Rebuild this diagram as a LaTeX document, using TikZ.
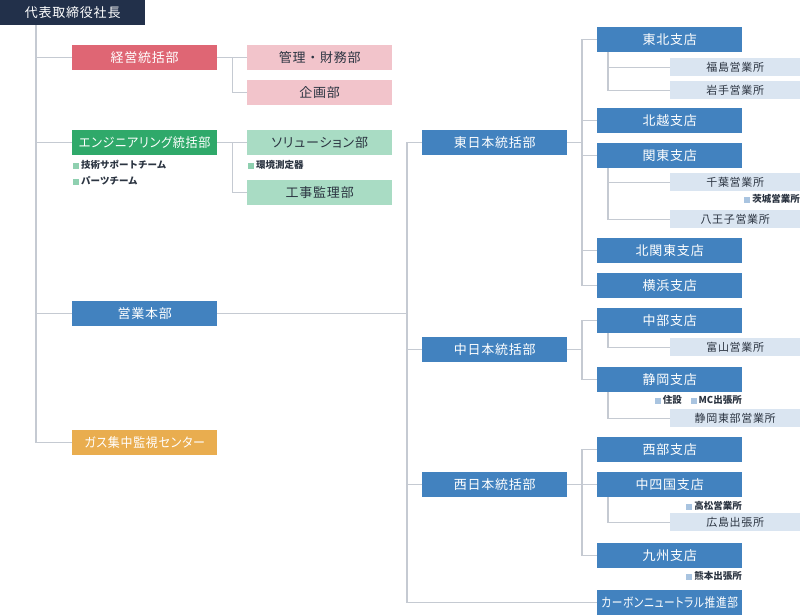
\documentclass[tikz,border=0pt]{standalone}
\usepackage{fontspec}
\setmainfont{Noto Sans CJK JP}
\newfontfamily\jp[LetterSpace=6,RawFeature=+palt]{Noto Sans CJK JP}
\newfontfamily\jpw[LetterSpace=6]{Noto Sans CJK JP}
\definecolor{ceoC}{HTML}{22304A}
\definecolor{redC}{HTML}{DF6674}
\definecolor{pinkC}{HTML}{F2C4CB}
\definecolor{greenC}{HTML}{2FA96A}
\definecolor{lgreenC}{HTML}{A9DCC4}
\definecolor{blueC}{HTML}{4282BF}
\definecolor{orangeC}{HTML}{E9AD4F}
\definecolor{lblueC}{HTML}{DAE5F1}
\definecolor{lineC}{HTML}{C5CAD2}
\definecolor{txtC}{HTML}{2B3441}
\definecolor{sqG}{HTML}{8FD0B0}
\definecolor{sqB}{HTML}{A9C4E0}
\newcommand{\sqg}{\textcolor{sqG}{\rule{6pt}{6pt}}\hspace{2pt}}
\newcommand{\sqb}{\textcolor{sqB}{\rule{6pt}{6pt}}\hspace{2pt}}
\tikzset{
  box/.style={anchor=north west, minimum width=145pt, minimum height=25pt, inner sep=0pt,
    font=\jp\fontsize{13}{13}\selectfont, text=white},
  darkbox/.style={box, fill=ceoC},
  redbox/.style={box, fill=redC},
  pinkbox/.style={box, fill=pinkC, text=txtC},
  greenbox/.style={box, fill=greenC},
  lgreenbox/.style={box, fill=lgreenC, text=txtC},
  bluebox/.style={box, fill=blueC},
  orangebox/.style={box, fill=orangeC},
  office/.style={anchor=north west, minimum width=130pt, minimum height=18pt, inner sep=0pt,
    fill=lblueC, text=txtC, font=\jp\fontsize{11}{11}\selectfont},
  note/.style={inner sep=0pt, text=txtC, font=\bfseries\fontsize{9.5}{10}\selectfont},
  conn/.style={draw=lineC, line width=1.3pt},
}
\begin{document}
\begin{tikzpicture}[x=1pt,y=-1pt]
\useasboundingbox (0,0) rectangle (800,615);
% left column
\node[darkbox] (ceo) at (0,0) {代表取締役社長};
\node[redbox] (keiei) at (72,45) {経営統括部};
\node[pinkbox, font=\jpw\fontsize{13}{13}\selectfont] (kanri) at (247,45) {管理・財務部};
\node[pinkbox] (kikaku) at (247,80) {企画部};
\node[greenbox] (eng) at (72,130) {\scalebox{0.93}[1]{エンジニアリング統括部}};
\node[lgreenbox] (sol) at (247,130) {ソリューション部};
\node[lgreenbox] (koji) at (247,180) {工事監理部};
\node[note, anchor=west] (tech) at (73,165) {\sqg 技術サポートチーム};
\node[note, anchor=west] (parts) at (73,181) {\sqg パーツチーム};
\node[note, anchor=west] (kankyo) at (248,165) {\sqg 環境測定器};
\node[bluebox] (eigyo) at (72,301) {営業本部};
\node[orangebox] (gas) at (72,430) {\scalebox{0.92}[1]{ガス集中監視センター}};
% regional
\node[bluebox] (higashi) at (422,130) {東日本統括部};
\node[bluebox] (naka) at (422,337) {中日本統括部};
\node[bluebox] (nishi) at (422,472) {西日本統括部};
\node[bluebox] (carbon) at (597,590) {\scalebox{0.82}[1]{カーボンニュートラル推進部}};
% east branches
\node[bluebox] (tohoku) at (597,27) {東北支店};
\node[office] (fukushima) at (670,58) {福島営業所};
\node[office] (iwate) at (670,81) {岩手営業所};
\node[bluebox] (hokuetsu) at (597,108) {北越支店};
\node[bluebox] (kanto) at (597,143) {関東支店};
\node[office] (chiba) at (670,173) {千葉営業所};
\node[note, anchor=east] (ibaraki) at (800,199) {\sqb 茨城営業所};
\node[office] (hachioji) at (670,210) {八王子営業所};
\node[bluebox] (kitakanto) at (597,238) {北関東支店};
\node[bluebox] (yokohama) at (597,273) {横浜支店};
% middle branches
\node[bluebox] (chubu) at (597,308) {中部支店};
\node[office] (toyama) at (670,338) {富山営業所};
\node[bluebox] (shizuoka) at (597,367) {静岡支店};
\node[note, anchor=east] (mc) at (742,400) {\sqb MC出張所};
\node[note, anchor=east] (jusetsu) at (682,400) {\sqb 住設};
\node[office] (shizuokatobu) at (670,409) {静岡東部営業所};
% west branches
\node[bluebox] (seibu) at (597,437) {西部支店};
\node[bluebox] (chushikoku) at (597,472) {中四国支店};
\node[note, anchor=east] (takamatsu) at (742,506) {\sqb 高松営業所};
\node[office] (hiroshima) at (670,513) {広島出張所};
\node[bluebox] (kyushu) at (597,543) {九州支店};
\node[note, anchor=east] (kumamoto) at (742,576) {\sqb 熊本出張所};
% connectors
\draw[conn] ([xshift=36pt]ceo.south west) |- (gas.west);
\draw[conn] ([xshift=36pt]ceo.south west) |- (keiei.west);
\draw[conn] ([xshift=36pt]ceo.south west) |- (eng.west);
\draw[conn] ([xshift=36pt]ceo.south west) |- (eigyo.west);
\draw[conn] (keiei.east) -- (kanri.west);
\draw[conn] ([xshift=15pt]keiei.east) |- (kikaku.west);
\draw[conn] (eng.east) -- (sol.west);
\draw[conn] ([xshift=15pt]eng.east) |- (koji.west);
% sales
\draw[conn] (eigyo.east) -- ([xshift=-15pt]higashi.west |- eigyo.east);
\draw[conn] (higashi.west) -- ++(-15,0) |- (carbon.west);
\draw[conn] (naka.west) -- ++(-15,0);
\draw[conn] (nishi.west) -- ++(-15,0);
% east
\draw[conn] (higashi.east) -- ([xshift=-15pt]tohoku.west |- higashi.east);
\draw[conn] (tohoku.west) -- ++(-15,0) |- (yokohama.west);
\draw[conn] (hokuetsu.west) -- ++(-15,0);
\draw[conn] (kanto.west) -- ++(-15,0);
\draw[conn] (kitakanto.west) -- ++(-15,0);
\draw[conn] ([xshift=11pt]tohoku.south west) |- (fukushima.west);
\draw[conn] ([xshift=11pt]tohoku.south west) |- (iwate.west);
\draw[conn] ([xshift=11pt]kanto.south west) |- (chiba.west);
\draw[conn] ([xshift=11pt]kanto.south west) |- (hachioji.west);
% middle
\draw[conn] (naka.east) -- ([xshift=-15pt]chubu.west |- naka.east);
\draw[conn] (chubu.west) -- ++(-15,0) |- (shizuoka.west);
\draw[conn] ([xshift=11pt]chubu.south west) |- (toyama.west);
\draw[conn] ([xshift=11pt]shizuoka.south west) |- (shizuokatobu.west);
% west
\draw[conn] (nishi.east) -- (chushikoku.west);
\draw[conn] (seibu.west) -- ++(-15,0) |- (kyushu.west);
\draw[conn] ([xshift=11pt]chushikoku.south west) |- (hiroshima.west);
\end{tikzpicture}
\end{document}
